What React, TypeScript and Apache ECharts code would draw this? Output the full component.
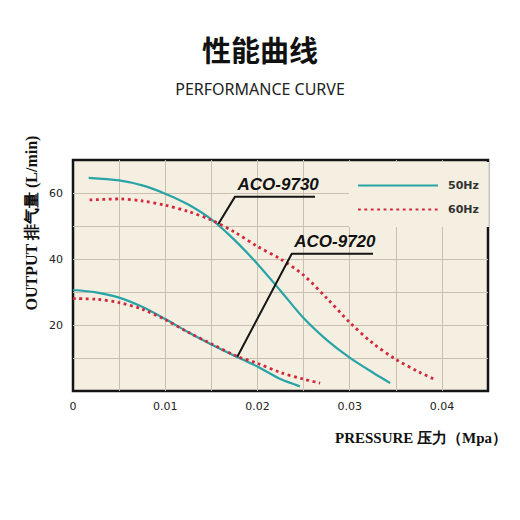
import React, { useEffect, useRef } from "react";
import * as echarts from "echarts";

// ---- data ----
const aco9730_50Hz: [number, number][] = [
  [0.0017, 64.6], [0.005, 63.8], [0.0075, 62.3], [0.01, 59.8], [0.0125, 56.5],
  [0.015, 52.0], [0.0175, 45.8], [0.02, 38.5], [0.0225, 30.4], [0.025, 22.1],
  [0.0275, 15.5], [0.03, 10.1], [0.0325, 5.6], [0.0344, 2.4],
];
const aco9730_60Hz: [number, number][] = [
  [0.0018, 57.9], [0.005, 58.2], [0.0075, 57.6], [0.01, 56.3], [0.0125, 54.4],
  [0.015, 51.8], [0.0175, 48.2], [0.02, 43.8], [0.0225, 40.0], [0.025, 35.1],
  [0.0275, 28.2], [0.03, 20.8], [0.0325, 14.5], [0.035, 9.6], [0.0375, 5.8],
  [0.0393, 3.4],
];
const aco9720_50Hz: [number, number][] = [
  [0, 30.6], [0.0025, 29.9], [0.005, 28.3], [0.0075, 25.5], [0.01, 21.8],
  [0.0125, 17.8], [0.015, 14.1], [0.0175, 10.7], [0.02, 7.4], [0.0225, 3.6],
  [0.0246, 1.4],
];
const aco9720_60Hz: [number, number][] = [
  [0, 28.0], [0.0025, 27.8], [0.005, 26.8], [0.0075, 24.8], [0.01, 21.6],
  [0.0125, 17.8], [0.015, 14.3], [0.0178, 10.5], [0.02, 8.4], [0.0225, 5.6],
  [0.025, 3.6], [0.0268, 2.4],
];
// annotation leader lines: [pointer on curve, corner, end of underline]
const leader9730: [number, number][] = [[0.01576, 50.6], [0.01757, 58.9], [0.02624, 58.9]];
const leader9720: [number, number][] = [[0.01782, 10.4], [0.02372, 41.6], [0.03253, 41.6]];
const modelNames = ["ACO-9730", "ACO-9720"];
const legendNames = ["50Hz", "60Hz"];
const xTicks = { min: 0, max: 0.045, interval: 0.005 };
const yTicks = { min: 0, max: 70, interval: 10 };

const TEAL = "#2aa3a6";
const RED = "#d3283c";
const BG = "#f5efe2";

export default function App() {
  const ref = useRef<HTMLDivElement>(null);
  useEffect(() => {
    if (!ref.current) return;
    const chart = echarts.init(ref.current, undefined, { renderer: "svg" });

    const curve = (name: string, data: [number, number][], color: string, dotted: boolean) => ({
      name,
      type: "line",
      data,
      smooth: 0.3,
      symbol: "none",
      silent: true,
      z: 3,
      itemStyle: { color },
      lineStyle: dotted
        ? { color, width: 2.8, type: [2.8, 3.6], cap: "butt" }
        : { color, width: 2.2 },
    });

    const leader = (name: string, pts: [number, number][]) => ({
      name,
      type: "line",
      silent: true,
      z: 4,
      symbol: "circle",
      symbolSize: 1,
      itemStyle: { color: "rgba(0,0,0,0)" },
      lineStyle: { color: "#151515", width: 2 },
      data: [
        pts[0],
        {
          value: pts[1],
          label: {
            show: true,
            formatter: name,
            position: "right",
            distance: 2,
            offset: [0, -12],
            fontFamily: "Liberation Sans, Arial, sans-serif",
            fontWeight: "bold",
            fontStyle: "italic",
            fontSize: 17,
            color: "#111",
          },
        },
        pts[2],
      ],
    });

    chart.setOption({
      animation: false,
      title: [
        {
          text: "性能曲线",
          left: "center",
          top: 29,
          textStyle: {
            fontFamily: "Noto Sans CJK SC",
            fontWeight: "bold",
            fontSize: 29,
            color: "#111",
          },
        },
        {
          text: "PERFORMANCE CURVE",
          left: "center",
          top: 76,
          textStyle: {
            fontFamily: "Noto Sans",
            fontWeight: "normal",
            fontSize: 16,
            color: "#222",
          },
        },
      ],
      grid: {
        left: 73,
        top: 160,
        right: 32,
        bottom: 129,
        show: true,
        backgroundColor: BG,
        borderColor: "#151515",
        borderWidth: 2.5,
      },
      legend: {
        data: legendNames,
        orient: "vertical",
        left: 349,
        top: 162,
        padding: [18, 10, 12, 8],
        backgroundColor: BG,
        itemWidth: 80,
        itemHeight: 10,
        itemGap: 13,
        selectedMode: false,
        itemStyle: { opacity: 0 },
        textStyle: {
          fontFamily: "DejaVu Sans",
          fontWeight: "bold",
          fontSize: 11,
          color: "#333",
          padding: [0, 0, 0, 5],
        },
      },
      xAxis: {
        type: "value",
        min: xTicks.min,
        max: xTicks.max,
        interval: xTicks.interval,
        axisLine: { show: false },
        axisTick: { show: false },
        splitLine: {
          show: true,
          showMinLine: false,
          showMaxLine: false,
          lineStyle: { color: "#c9c0b0", width: 1 },
        },
        axisLabel: {
          margin: 10,
          fontFamily: "DejaVu Sans",
          fontSize: 11,
          color: "#222",
          showMaxLabel: false,
          formatter: (v: number) => {
            const r = Math.round(v * 1000);
            if (r % 10 !== 0) return "";
            return r === 0 ? "0" : String(r / 1000);
          },
        },
      },
      yAxis: {
        type: "value",
        min: yTicks.min,
        max: yTicks.max,
        interval: yTicks.interval,
        axisLine: { show: false },
        axisTick: { show: false },
        splitLine: {
          show: true,
          showMinLine: false,
          showMaxLine: false,
          lineStyle: { color: "#c9c0b0", width: 1 },
        },
        axisLabel: {
          margin: 10,
          fontFamily: "DejaVu Sans",
          fontSize: 11,
          color: "#222",
          formatter: (v: number) => (v > 0 && v % 20 === 0 ? String(v) : ""),
        },
      },
      graphic: [
        {
          type: "text",
          x: 31,
          y: 223,
          rotation: Math.PI / 2,
          style: {
            text: "OUTPUT 排气量 (L/min)",
            font: "bold 16px 'Liberation Serif', 'Times New Roman', serif",
            fill: "#111",
            textAlign: "center",
            textVerticalAlign: "middle",
          },
        },
        {
          type: "text",
          x: 335,
          y: 438,
          style: {
            text: "PRESSURE 压力（Mpa）",
            font: "bold 15px 'Liberation Serif', 'Times New Roman', serif",
            fill: "#111",
            textAlign: "left",
            textVerticalAlign: "middle",
          },
        },
      ],
      series: [
        curve(legendNames[0], aco9730_50Hz, TEAL, false),
        curve(legendNames[1], aco9730_60Hz, RED, true),
        curve(legendNames[0], aco9720_50Hz, TEAL, false),
        curve(legendNames[1], aco9720_60Hz, RED, true),
        leader(modelNames[0], leader9730),
        leader(modelNames[1], leader9720),
      ],
    });
    return () => chart.dispose();
  }, []);
  return (
    <div
      ref={ref}
      style={{ position: "fixed", left: 0, top: 0, width: 520, height: 520, background: "#fff" }}
    />
  );
}
